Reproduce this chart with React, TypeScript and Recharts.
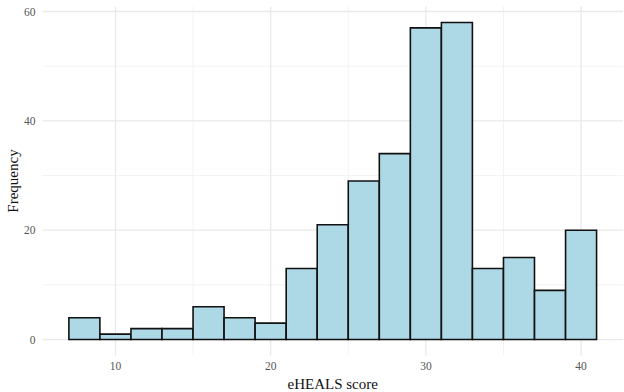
import React from 'react';
import {
  ComposedChart,
  Bar,
  XAxis,
  YAxis,
  CartesianGrid,
  Label,
} from 'recharts';

// eHEALS histogram, bins of width 2 from 7 to 41
const binMids = [8, 10, 12, 14, 16, 18, 20, 22, 24, 26, 28, 30, 32, 34, 36, 38, 40];
const counts = [4, 1, 2, 2, 6, 4, 3, 13, 21, 29, 34, 57, 58, 13, 15, 9, 20];

const xTicks = [10, 20, 30, 40];
const yTicks = [0, 20, 40, 60];
const xMinor = [15, 25, 35];
const yMinor = [10, 30, 50];

const FONT = '"Liberation Serif", "DejaVu Serif", serif';
const tickStyle = { fontSize: 11.5, fill: '#555', fontFamily: FONT, style: { fontFamily: FONT } };

const data = binMids.map((x, i) => ({ x, count: counts[i] }));

export default function App() {
  return (
    <div
      style={{
        position: 'absolute',
        left: 0,
        top: 0,
        width: 624,
        height: 392,
        background: '#fff',
        fontFamily: FONT,
      }}
    >
      <ComposedChart
        width={624}
        height={392}
        data={data}
        margin={{ top: 6.6, right: 1, left: 0, bottom: 0 }}
        barCategoryGap={0}
        barGap={0}
        style={{ fontFamily: FONT }}
      >
        <CartesianGrid
          stroke="#f3f3f3"
          strokeWidth={1}
          horizontalValues={yMinor}
          verticalValues={xMinor}
        />
        <CartesianGrid
          stroke="#e9e9e9"
          strokeWidth={1.3}
          horizontalValues={yTicks}
          verticalValues={xTicks}
        />
        <XAxis
          dataKey="x"
          type="number"
          domain={[5.3, 42.7]}
          ticks={xTicks}
          allowDataOverflow
          axisLine={false}
          tickLine={false}
          tickSize={0}
          tickMargin={6}
          height={36.6}
          tick={tickStyle}
        >
          <Label
            value="eHEALS score"
            position="insideBottom"
            offset={3}
            style={{ fontSize: 15, fill: '#111', fontFamily: FONT }}
          />
        </XAxis>
        <YAxis
          type="number"
          domain={[-2.9, 60.9]}
          ticks={yTicks}
          allowDataOverflow
          axisLine={false}
          tickLine={false}
          tickSize={0}
          tickMargin={7}
          width={42.5}
          tick={tickStyle}
        >
          <Label
            value="Frequency"
            angle={-90}
            position="insideLeft"
            offset={13}
            style={{ fontSize: 15, fill: '#111', fontFamily: FONT, textAnchor: 'middle' }}
          />
        </YAxis>
        <Bar
          dataKey="count"
          fill="#ADD8E6"
          stroke="#111"
          strokeWidth={1.6}
          isAnimationActive={false}
        />
      </ComposedChart>
    </div>
  );
}
